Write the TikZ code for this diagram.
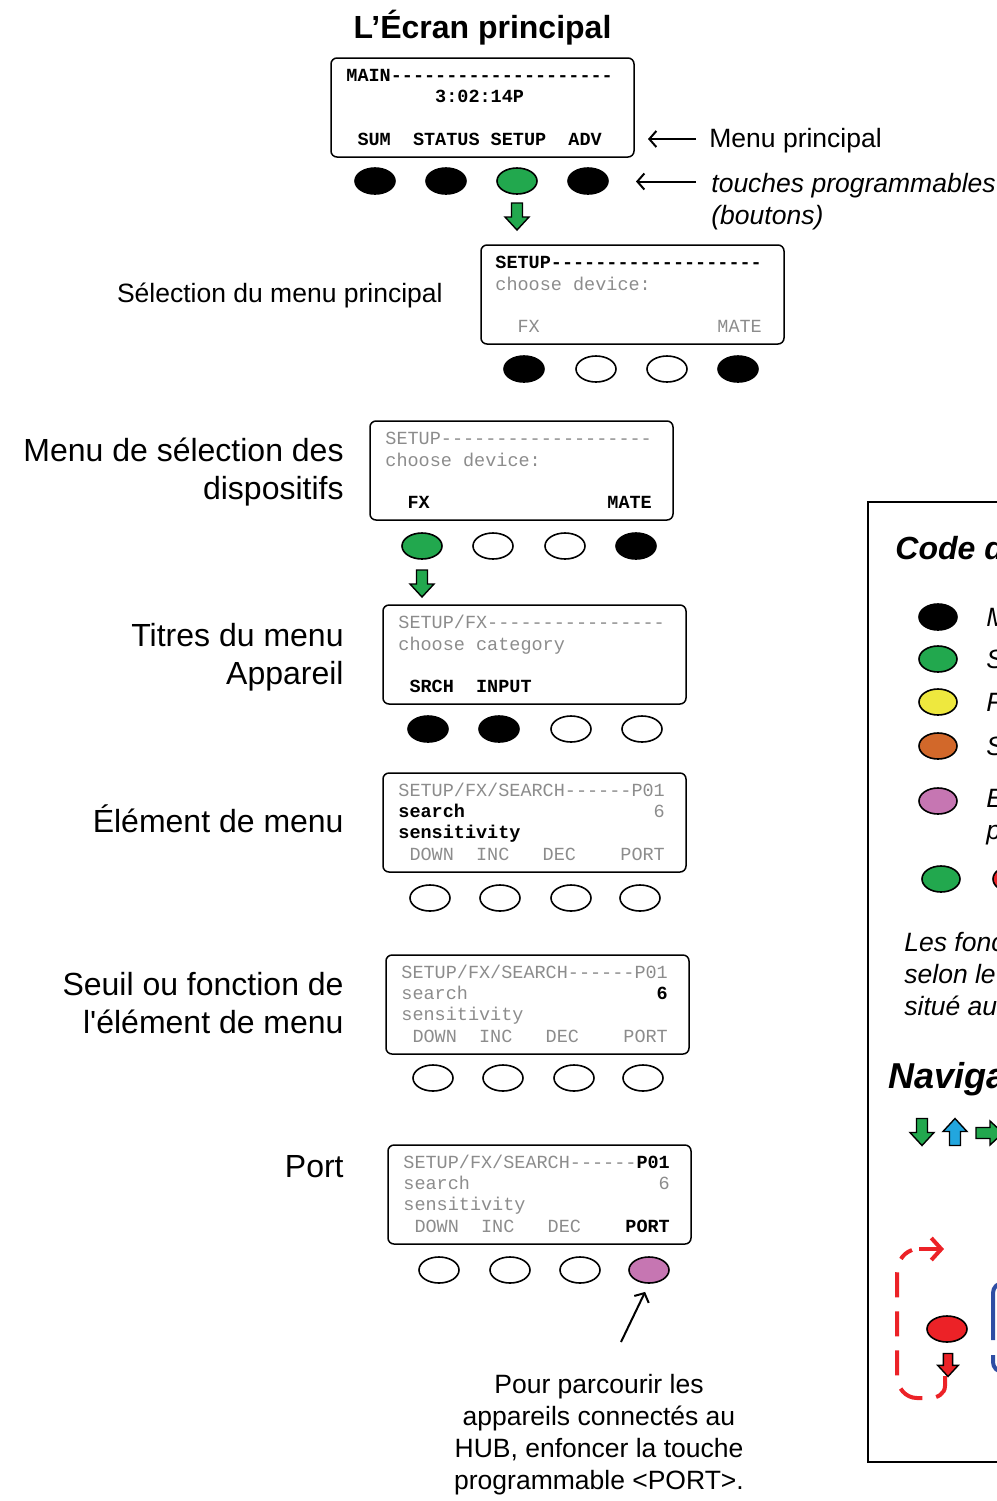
\documentclass[tikz,border=0pt]{standalone}
\usepackage{fontspec}
\setmainfont{Liberation Sans}
\setmonofont{Liberation Mono}
\usetikzlibrary{arrows.meta,shapes.geometric}

\definecolor{btngreen}{RGB}{34,168,78}
\definecolor{lcdgray}{RGB}{140,140,140}
\definecolor{portpurple}{RGB}{198,118,178}
\definecolor{legyellow}{RGB}{238,232,62}
\definecolor{legorange}{RGB}{210,104,42}
\definecolor{navred}{RGB}{236,34,39}
\definecolor{navblue}{RGB}{34,166,222}
\definecolor{loopblue}{RGB}{46,78,164}

% block arrow: [scale]{position}{rotation}{colour}
\newcommand{\blockarrow}[4][1]{%
  \filldraw[fill=#4,line width=0.7pt,shift={(#2)},rotate=#3,scale=#1]
    (-5.5,-13.5) -- (5.5,-13.5) -- (5.5,0.5) -- (12,0.5) -- (0,13.5) -- (-12,0.5) -- (-5.5,0.5) -- cycle;}

\begin{document}
\begin{tikzpicture}[x=0.5pt,y=-0.5pt,
    screen/.style={draw,line width=0.75pt,rounded corners=3pt},
    lcd/.style={anchor=base west,inner sep=0,font=\ttfamily\fontsize{9.25}{9.25}\selectfont},
    lcddim/.style={lcd,text=lcdgray},
    lcdlit/.style={lcd,font=\ttfamily\bfseries\fontsize{9.25}{9.25}\selectfont},
    btn/.style={ellipse,draw,line width=0.8pt,minimum width=20pt,minimum height=13pt,inner sep=0},
    lbl/.style={inner sep=0,align=right,font=\fontsize{16}{19}\selectfont},
    side/.style={inner sep=0,anchor=base west,font=\fontsize{13.25}{16}\selectfont},
    ptr/.style={line width=1pt,-{Straight Barb[length=3.5pt,width=8pt]}},
    legtext/.style={inner sep=0,anchor=base west,font=\itshape\fontsize{13.25}{16}\selectfont},
    legtitle/.style={inner sep=0,anchor=base west,font=\bfseries\itshape\fontsize{16}{19}\selectfont}]

    \useasboundingbox (0,0) rectangle (997,1501);
    \clip (0,0) rectangle (997,1501);

    \node[font=\bfseries\fontsize{16}{19}\selectfont,anchor=base,inner sep=0] (title) at (482.5,38.5) {L’Écran principal};

    % main screen
    \begin{scope}[shift={(331,58)}]
        \draw[screen] (0,0) rectangle (303,99);
        \node[lcdlit] (s1t) at (15,23) {MAIN--------------------};
        \node[lcdlit] (s1c) at (15,44) {~~~~~~~~3:02:14P};
        \node[lcdlit] (s1k) at (15,87) {~SUM~~STATUS~SETUP~~ADV};
        \foreach \bx/\bc [count=\i] in {44/black,115/black,186/btngreen,257/black}
            \node[btn,fill=\bc] (s1b\i) at (\bx,123) {};
    \end{scope}
    \node[side] (mainlbl) at (709,147.5) {Menu principal};
    \node[side,font=\itshape\fontsize{13.25}{16}\selectfont] (softlbl) at (711,192.5) {touches programmables};
    \node[side,font=\itshape\fontsize{13.25}{16}\selectfont] (softlbl2) at (711,224.5) {(boutons)};
    \draw[ptr] (mainlbl.base west) ++(-13,-8.5) -- ++(-48,0);
    \draw[ptr] (softlbl.base west) ++(-15,-11) -- ++(-60,0);
    \blockarrow{517,216.5}{0}{btngreen}

    % setup screen
    \begin{scope}[shift={(481,245)}]
        \draw[screen] (0,0) rectangle (303,99);
        \node[lcdlit] (s2t) at (14,23) {SETUP-------------------};
        \node[lcddim] (s2c) at (14,45) {choose device:};
        \node[lcddim] (s2k) at (14,87) {~~FX~~~~~~~~~~~~~~~~MATE};
        \foreach \bx/\bc [count=\i] in {43/black,115/white,186/white,257/black}
            \node[btn,fill=\bc] (s2b\i) at (\bx,124) {};
    \end{scope}
    \node[side,anchor=base east] (selmain) at (443,302.5) {Sélection du menu principal};

    % device screen
    \begin{scope}[shift={(370,421)}]
        \draw[screen] (0,0) rectangle (303,99);
        \node[lcddim] (s3t) at (15,23) {SETUP-------------------};
        \node[lcddim] (s3c) at (15,45) {choose device:};
        \node[lcdlit] (s3k) at (15,87) {~~FX~~~~~~~~~~~~~~~~MATE};
        \foreach \bx/\bc [count=\i] in {52/btngreen,123/white,195/white,266/black}
            \node[btn,fill=\bc] (s3b\i) at (\bx,125) {};
    \end{scope}
    \node[lbl,anchor=east] (devmenu) at (344,472) {Menu de sélection des\\dispositifs};
    \blockarrow{422,583.5}{0}{btngreen}

    % category screen
    \begin{scope}[shift={(383,605)}]
        \draw[screen] (0,0) rectangle (303,99);
        \node[lcddim] (s4t) at (15,23) {SETUP/FX----------------};
        \node[lcddim] (s4c) at (15,45) {choose category};
        \node[lcdlit] (s4k) at (15,87) {~SRCH~~INPUT};
        \foreach \bx/\bc [count=\i] in {45/black,116/black,188/white,259/white}
            \node[btn,fill=\bc] (s4b\i) at (\bx,124) {};
    \end{scope}
    \node[lbl,anchor=east] (titles) at (344,657) {Titres du menu\\Appareil};

    % item screen
    \begin{scope}[shift={(383,773)}]
        \draw[screen] (0,0) rectangle (303,99);
        \node[lcddim] (s5t) at (15,23) {SETUP/FX/SEARCH------P01};
        \node[lcddim] (s5c) at (15,44) {{\color{black}\bfseries search}~~~~~~~~~~~~~~~~~6};
        \node[lcdlit] (s5d) at (15,65) {sensitivity};
        \node[lcddim] (s5k) at (15,87) {~DOWN~~INC~~~DEC~~~~PORT};
        \foreach \bx [count=\i] in {47,117,188,257}
            \node[btn,fill=white] (s5b\i) at (\bx,125) {};
    \end{scope}
    \node[lbl,anchor=base east] (item) at (344,832.5) {Élément de menu};

    % value screen
    \begin{scope}[shift={(386,955)}]
        \draw[screen] (0,0) rectangle (303,99);
        \node[lcddim] (s6t) at (15,23) {SETUP/FX/SEARCH------P01};
        \node[lcddim] (s6c) at (15,44) {search~~~~~~~~~~~~~~~~~{\color{black}\bfseries 6}};
        \node[lcddim] (s6d) at (15,65) {sensitivity};
        \node[lcddim] (s6k) at (15,87) {~DOWN~~INC~~~DEC~~~~PORT};
        \foreach \bx [count=\i] in {47,117,188,257}
            \node[btn,fill=white] (s6b\i) at (\bx,123) {};
    \end{scope}
    \node[lbl,anchor=east] (thresh) at (344,1003) {Seuil ou fonction de\\l\textquotesingle élément de menu};

    % port screen
    \begin{scope}[shift={(388,1145)}]
        \draw[screen] (0,0) rectangle (303,99);
        \node[lcddim] (s7t) at (15,23) {SETUP/FX/SEARCH------{\color{black}\bfseries P01}};
        \node[lcddim] (s7c) at (15,44) {search~~~~~~~~~~~~~~~~~6};
        \node[lcddim] (s7d) at (15,65) {sensitivity};
        \node[lcddim] (s7k) at (15,87) {~DOWN~~INC~~~DEC~~~~{\color{black}\bfseries PORT}};
        \foreach \bx/\bc [count=\i] in {51/white,122/white,192/white,261/portpurple}
            \node[btn,fill=\bc] (s7b\i) at (\bx,125) {};
    \end{scope}
    \node[lbl,anchor=base east] (port) at (344,1177.5) {Port};

    \node[inner sep=0,align=center,font=\fontsize{13.25}{16}\selectfont] (note) at (599,1435)
        {Pour parcourir les\\appareils connectés au\\HUB, enfoncer la touche\\programmable <PORT>.};
    \coordinate (ptrtail) at (621,1342);
    \draw[ptr,shorten >=4.5pt] (ptrtail) -- (s7b4.south);

    % colour key
    \draw[line width=1pt] (868,502) rectangle (1030,1462);
    \node[legtitle] (keytitle) at (895,559.5) {Code d};
    \foreach \ly/\lc [count=\i] in {617/black,659/btngreen,702/legyellow,746/legorange,801/portpurple}
        \node[btn,minimum width=19pt,fill=\lc] (key\i) at (938,\ly) {};
    \node[btn,minimum width=19pt,fill=btngreen] (key6) at (941,879) {};
    \node[btn,minimum width=19pt,fill=navred] (key7) at (1012,879) {};
    \node[legtext] (keyM) at (986,626.5) {M};
    \node[legtext] (keyS) at (986,668.5) {S};
    \node[legtext] (keyF) at (986,711.5) {F};
    \node[legtext] (keyS2) at (986,755.5) {S};
    \node[legtext] (keyE) at (986,807.5) {E};
    \node[legtext] (keyp) at (986,839) {p};
    \node[legtext] (fonc1) at (904,951.5) {Les fonc};
    \node[legtext] (fonc2) at (904,983.5) {selon le};
    \node[legtext] (fonc3) at (904,1015.5) {situé au};

    % navigation
    \node[legtitle,font=\bfseries\itshape\fontsize{18}{21}\selectfont] (navtitle) at (888,1088) {Naviga};
    \blockarrow{922,1132}{0}{btngreen}
    \blockarrow{955,1132}{180}{navblue}
    \blockarrow{989.5,1133}{90}{btngreen}

    \draw[navred,line width=2pt,dash pattern=on 12.5pt off 7pt]
        (945,1376) -- (945,1386) to[out=-90,in=0] (930,1398) -- (917,1398)
        to[out=180,in=-90] (897,1376) -- (897,1275) to[out=90,in=200] (912,1250);
    \draw[navred,line width=2pt,-{Straight Barb[length=5pt,width=11pt]}] (919,1249) -- (944,1249);
    \node[btn,fill=navred] (redkey) at (947,1329) {};
    \blockarrow[0.85]{948,1365}{0}{navred}
    \draw[loopblue,line width=2pt,rounded corners=5pt] (1030,1283) -- (993,1283) -- (993,1340);
    \draw[loopblue,line width=2pt,rounded corners=5pt] (993,1355) -- (993,1372) -- (1030,1372);
\end{tikzpicture}
\end{document}
